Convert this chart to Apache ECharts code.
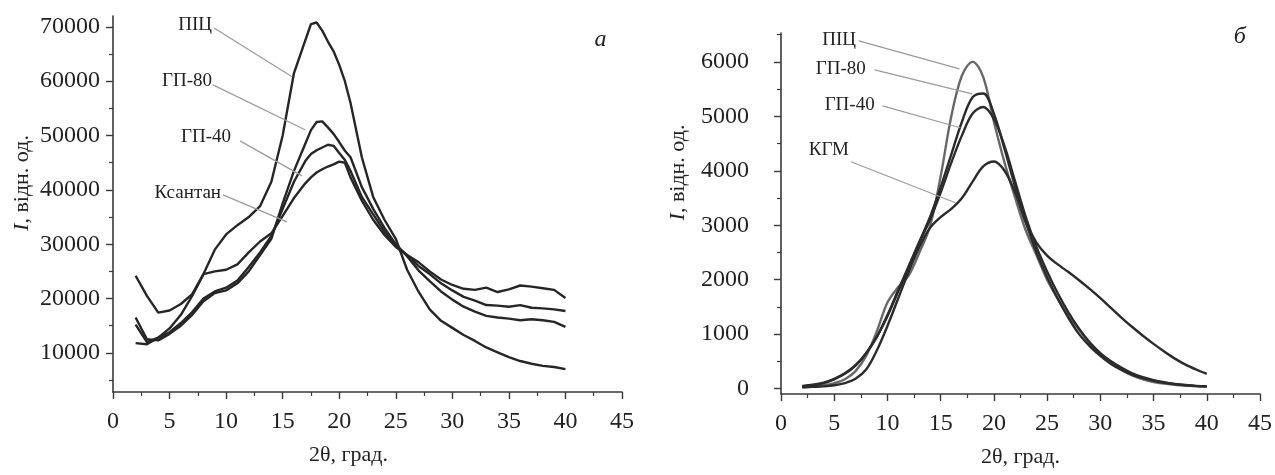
<!DOCTYPE html>
<html>
<head>
<meta charset="utf-8">
<script src="https://cdn.jsdelivr.net/npm/echarts@6/dist/echarts.min.js"></script>
<style>
html,body{margin:0;padding:0;background:#fff;}
#chart{width:1275px;height:475px;}
</style>
</head>
<body>
<div id="chart"></div>
<script>
// ---------- Panel а (left) ----------
const xLeft = [2,3,4,5,6,7,8,9,10,11,12,13,14,15,16,17,17.5,18,18.5,19,19.5,20,20.5,21,22,23,24,25,26,27,28,29,30,31,32,33,34,35,36,37,38,39,40];
const leftPIC = [11800,11600,12800,14500,17000,20500,24500,29000,31800,33500,35000,37000,41500,50000,61500,67500,70500,70800,69300,67300,65500,63000,60000,56000,46000,38700,34500,31000,25300,21300,18000,15900,14600,13300,12200,11000,10100,9200,8500,8000,7600,7400,7000];
const leftGP80 = [16500,12500,12300,13500,15000,17000,19500,21000,21500,22800,25000,28000,31000,37500,43500,48500,51000,52500,52600,51500,50300,48800,47200,46000,40500,36500,33000,30000,27800,25200,23200,21300,19800,18500,17600,16800,16500,16300,16000,16200,16000,15700,14800];
const leftGP40 = [15200,12000,12800,13800,15500,17500,20000,21300,22000,23300,25800,28500,31500,36500,41500,45300,46600,47300,47800,48300,48100,46800,45500,43500,38700,35500,32300,29800,28000,26000,24500,22800,21500,20300,19600,18800,18700,18500,18800,18300,18200,18000,17700];
const leftXanthan = [24200,20500,17400,17800,19000,20800,24500,25000,25300,26300,28500,30500,32000,35200,38500,41200,42300,43200,43800,44300,44700,45200,45000,42300,38000,34500,31700,29500,28000,26700,25000,23500,22500,21800,21600,22000,21200,21700,22400,22200,21900,21600,20100];
const leftYLabels = [10000,20000,30000,40000,50000,60000,70000];
const leftYMinor = [5000,15000,25000,35000,45000,55000,65000];

// ---------- Panel б (right) ----------
const xRight = [2,3,4,5,6,7,8,9,10,11,12,13,14,15,16,17,18,19,20,21,22,23,24,25,26,27,28,29,30,31,32,33,34,35,36,37,38,39,40];
const rightPIC = [30,40,60,100,170,320,600,1050,1580,1860,2080,2500,2980,3900,5000,5750,6000,5720,4900,4150,3500,2900,2450,2000,1650,1330,1080,820,620,480,340,240,170,120,90,70,55,45,40];
const rightGP80 = [40,60,100,170,270,420,650,950,1350,1800,2250,2700,3150,3700,4300,4900,5350,5420,5050,4400,3700,3050,2500,2050,1650,1300,1000,780,600,450,340,250,190,140,105,80,60,45,35];
const rightGP40 = [50,70,110,180,280,430,650,950,1330,1780,2230,2680,3100,3600,4150,4650,5050,5170,4950,4450,3800,3150,2600,2150,1750,1400,1100,850,650,500,380,280,210,155,115,85,65,50,40];
const rightKGM = [20,30,40,60,100,180,350,700,1150,1650,2150,2600,2950,3150,3300,3500,3800,4080,4170,4000,3600,3050,2680,2440,2280,2140,1990,1830,1660,1480,1300,1130,970,820,680,550,440,350,270];
const rightYLabels = [0,1000,2000,3000,4000,5000,6000];
const rightYMinor = [500,1500,2500,3500,4500,5500,6500];

// annotation labels: [text, textX, textY, lineStartX, lineStartY, lineEndX, lineEndY]
const leftNotes = [
  ['ПІЦ', 8.75, 70370, 8.93, 69800, 15.83, 60800],
  ['ГП-80', 8.75, 60060, 8.84, 59330, 16.98, 51050],
  ['ГП-40', 10.43, 49760, 11.23, 49020, 16.71, 42580],
  ['Ксантан', 9.55, 39450, 9.73, 39080, 15.38, 34110]
];
const rightNotes = [
  ['ПІЦ', 7.04, 6404, 7.31, 6386, 16.76, 5872],
  ['ГП-80', 7.96, 5872, 8.8, 5854, 17.96, 5413],
  ['ГП-40', 8.8, 5211, 9.54, 5193, 16.85, 4789],
  ['КГМ', 6.39, 4386, 6.57, 4165, 16.39, 3413]
];
const panelLetters = [['а', 0, 43.1, 67600], ['б', 1, 43.1, 6460]];

const FONT = '"Liberation Serif","DejaVu Serif","Times New Roman",serif';
const AX = '#3a3a3a';

function pairs(xs, ys){ return xs.map((x,i)=>[x, ys[i]]); }
const plain = v => String(v);

function xAxisCfg(grid, padRight){
  return {
    type:'value', gridIndex:grid, min:0, max:45, interval:5,
    name:'2θ, град.', nameLocation:'middle', nameGap:52,
    nameTextStyle:{fontFamily:FONT, fontSize:22, color:'#222', padding:[0,padRight,0,0]},
    axisLine:{show:true, onZero:false, lineStyle:{color:AX, width:1.6}},
    axisTick:{show:true, length:7, lineStyle:{color:AX, width:1.4}},
    minorTick:{show:true, splitNumber:2, length:4, lineStyle:{color:AX, width:1.2}},
    splitLine:{show:false}, minorSplitLine:{show:false},
    axisLabel:{fontFamily:FONT, fontSize:24, color:'#222', margin:18, formatter:plain}
  };
}
function yAxisMajor(grid, min, max, labels, gap, margin, pad){
  return {
    type:'value', gridIndex:grid, min:min, max:max,
    name:'{i|I}, відн. од.', nameLocation:'middle', nameGap:gap,
    nameTextStyle:{fontFamily:FONT, fontSize:22, color:'#222', padding:pad,
      rich:{i:{fontFamily:FONT, fontSize:22, fontStyle:'italic', color:'#222'}}},
    axisLine:{show:true, onZero:false, lineStyle:{color:AX, width:1.6}},
    axisTick:{show:true, length:7, customValues:labels, lineStyle:{color:AX, width:1.4}},
    axisLabel:{fontFamily:FONT, fontSize:24, color:'#222', margin:margin, customValues:labels, formatter:plain},
    splitLine:{show:false}
  };
}
function yAxisMinor(grid, min, max, vals){
  return {
    type:'value', gridIndex:grid, min:min, max:max, position:'left',
    axisLine:{show:false},
    axisTick:{show:true, length:4, customValues:vals, lineStyle:{color:AX, width:1.2}},
    axisLabel:{show:false}, splitLine:{show:false}
  };
}
function lineSeries(name, xi, yi, data, color, smooth, width){
  return {type:'line', name:name, xAxisIndex:xi, yAxisIndex:yi, data:data,
    showSymbol:false, smooth:smooth, lineStyle:{color:color, width:width}, silent:true, animation:false};
}

const chart = echarts.init(document.getElementById('chart'), null, {renderer:'canvas'});
chart.setOption({
  animation:false,
  backgroundColor:'#ffffff',
  grid:[
    {left:113, right:653, top:16, bottom:83},
    {left:781, right:8, top:33, bottom:81}
  ],
  xAxis:[xAxisCfg(0, 38), xAxisCfg(1, 0)],
  yAxis:[
    yAxisMajor(0, 2800, 72000, leftYLabels, 80, 13, [0,0,0,42]),
    yAxisMinor(0, 2800, 72000, leftYMinor),
    yAxisMajor(1, -100, 6530, rightYLabels, 92, 32, [0,0,0,82]),
    yAxisMinor(1, -100, 6530, rightYMinor)
  ],
  series:[
    lineSeries('ПІЦ', 0, 0, pairs(xLeft, leftPIC), '#262626', false, 2.4),
    lineSeries('ГП-80', 0, 0, pairs(xLeft, leftGP80), '#262626', false, 2.4),
    lineSeries('ГП-40', 0, 0, pairs(xLeft, leftGP40), '#262626', false, 2.4),
    lineSeries('Ксантан', 0, 0, pairs(xLeft, leftXanthan), '#262626', false, 2.4),
    lineSeries('ПІЦ б', 1, 2, pairs(xRight, rightPIC), '#686868', 0.35, 2.4),
    lineSeries('ГП-80 б', 1, 2, pairs(xRight, rightGP80), '#2b2b2b', 0.35, 2.4),
    lineSeries('ГП-40 б', 1, 2, pairs(xRight, rightGP40), '#2b2b2b', 0.35, 2.4),
    lineSeries('КГМ б', 1, 2, pairs(xRight, rightKGM), '#2b2b2b', 0.35, 2.4)
  ]
});

function notesGraphics(notes, gridIndex){
  const out = [];
  notes.forEach(n => {
    const t = chart.convertToPixel({gridIndex:gridIndex}, [n[1], n[2]]);
    const a = chart.convertToPixel({gridIndex:gridIndex}, [n[3], n[4]]);
    const b = chart.convertToPixel({gridIndex:gridIndex}, [n[5], n[6]]);
    out.push({type:'line', silent:true, z:5, shape:{x1:a[0], y1:a[1], x2:b[0], y2:b[1]},
      style:{stroke:'#9a9a9a', lineWidth:1.2}});
    out.push({type:'text', silent:true, z:6, x:t[0], y:t[1],
      style:{text:n[0], fill:'#222', font:'19px ' + FONT, textAlign:'right', textVerticalAlign:'middle'}});
  });
  return out;
}
let g = [].concat(notesGraphics(leftNotes, 0), notesGraphics(rightNotes, 1));
panelLetters.forEach(p => {
  const q = chart.convertToPixel({gridIndex:p[1]}, [p[2], p[3]]);
  g.push({type:'text', silent:true, x:q[0], y:q[1],
    style:{text:p[0], fill:'#222', font:'italic 24px ' + FONT, textAlign:'center', textVerticalAlign:'middle'}});
});
chart.setOption({graphic:g});
</script>
</body>
</html>
